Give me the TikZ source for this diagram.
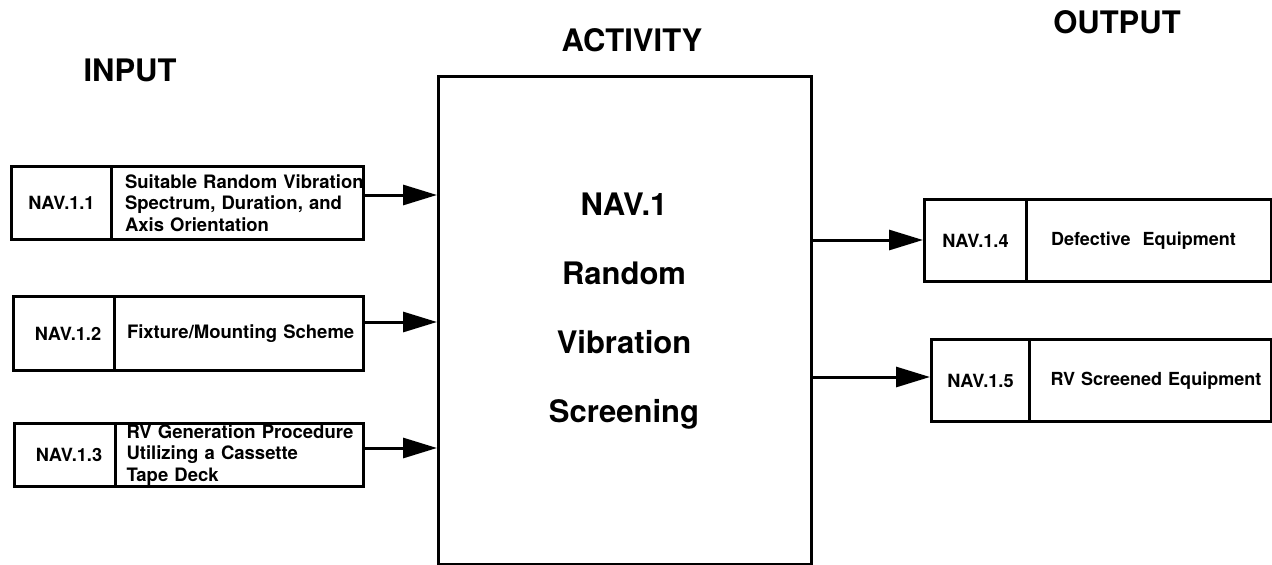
\documentclass[tikz,border=0pt]{standalone}
\usepackage{fontspec}
\setmainfont{TeX Gyre Heros}
\usetikzlibrary{arrows.meta}
\begin{document}
\begin{tikzpicture}[x=1pt,y=-1pt,
  every node/.style={font=\bfseries},
  hdr/.style={font=\fontsize{31}{34}\selectfont\bfseries},
  idcell/.style={draw,line width=3pt,anchor=north west,inner sep=0pt,
     font=\fontsize{18.2}{21}\selectfont\bfseries},
  txcell/.style={draw,line width=3pt,anchor=north west,inner sep=0pt,align=left,
     font=\fontsize{18.5}{21.5}\selectfont\bfseries},
  conn/.style={line width=3pt,-{Triangle[length=34pt,width=20pt]}}
]
\useasboundingbox (0,0) rectangle (1272,565);

% headers
\node[hdr] (hin) at (130,70) {INPUT};
\node[hdr] (hact) at (632,40) {ACTIVITY};
\node[hdr] (hout) at (1117,22) {OUTPUT};

% central activity box
\node[draw,line width=3pt,minimum width=373pt,minimum height=488pt,anchor=north west,inner sep=0pt] (act) at (437,75) {};
\node[font=\fontsize{31}{34}\selectfont\bfseries,align=center] (acttxt) at (624,311)
  {NAV.1\\[35pt]Random\\[35pt]Vibration\\[35pt]Screening};

% input 1
\node[idcell,minimum width=100pt,minimum height=73pt] (i1a) at (10,165) {NAV.1.1};
\node[txcell,minimum width=252pt,minimum height=73pt,text width=245pt] (i1b) at (110,165)
  {\mbox{\hspace*{10pt}Suitable Random Vibration}\\\mbox{\hspace*{10pt}Spectrum, Duration, and}\\\mbox{\hspace*{10pt}Axis Orientation}};
% input 2
\node[idcell,minimum width=101pt,minimum height=74pt] (i2a) at (12,295) {\hspace*{8pt}NAV.1.2};
\node[txcell,minimum width=249pt,minimum height=74pt,text width=240pt] (i2b) at (113,295)
  {\mbox{\hspace*{8pt}Fixture/Mounting Scheme}};
% input 3
\node[idcell,minimum width=101pt,minimum height=63pt] (i3a) at (13,422) {\hspace*{8pt}NAV.1.3};
\node[txcell,minimum width=248pt,minimum height=63pt,text width=240pt] (i3b) at (114,422)
  {\mbox{\hspace*{7pt}RV Generation Procedure}\\\mbox{\hspace*{7pt}Utilizing a Cassette}\\\mbox{\hspace*{7pt}Tape Deck}};

% output 4
\node[idcell,minimum width=102pt,minimum height=82pt] (o4a) at (923,198) {NAV.1.4};
\node[txcell,minimum width=245pt,minimum height=82pt,text width=240pt,font=\fontsize{18}{21}\selectfont\bfseries] (o4b) at (1025,198)
  {\mbox{\hspace*{22pt}Defective\ \ Equipment}\\[6pt]};
% output 5
\node[idcell,minimum width=98pt,minimum height=82pt] (o5a) at (930,338) {NAV.1.5};
\node[txcell,minimum width=242pt,minimum height=82pt,text width=236pt,font=\fontsize{18}{21}\selectfont\bfseries] (o5b) at (1028,338)
  {\mbox{\hspace*{18pt}RV Screened Equipment}\\[10pt]};

% connectors
\draw[conn] (i1b.east |- 0,195) -- (act.west |- 0,195);
\draw[conn] (i2b.east |- 0,322) -- (act.west |- 0,322);
\draw[conn] (i3b.east |- 0,448) -- (act.west |- 0,448);
\draw[conn] (act.east |- 0,240) -- (o4a.west |- 0,240);
\draw[conn] (act.east |- 0,377) -- (o5a.west |- 0,377);
\end{tikzpicture}
\end{document}
